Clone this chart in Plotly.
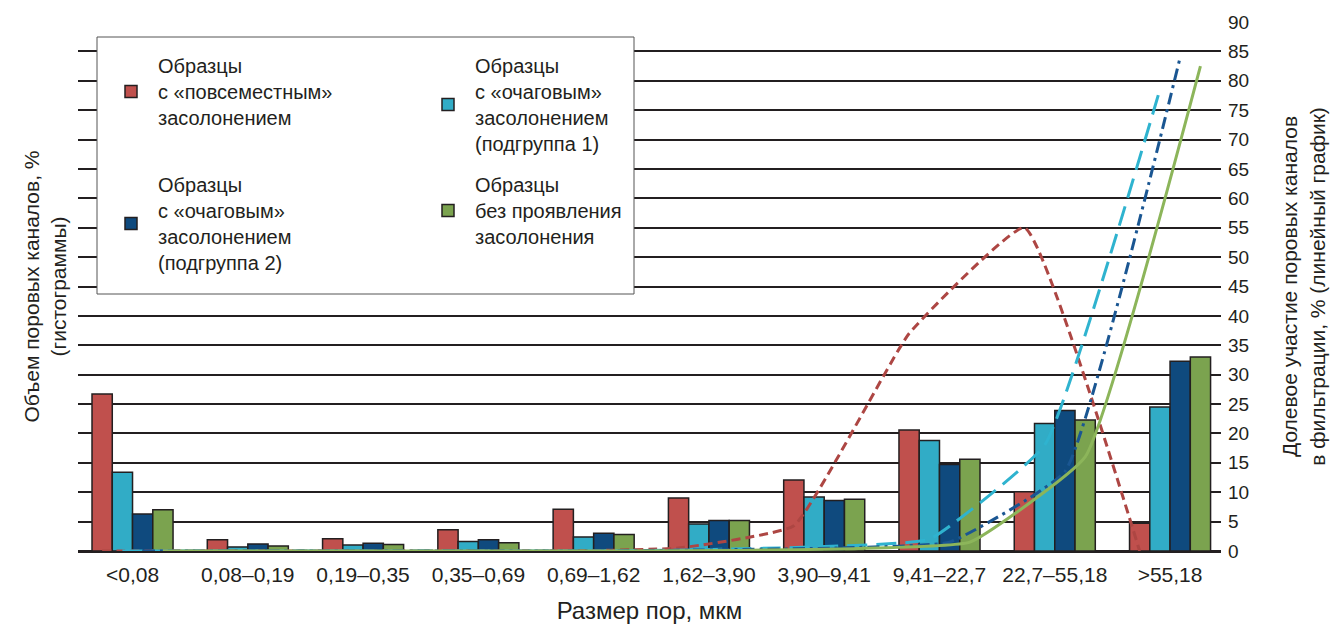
import plotly.graph_objects as go

# Pore-size classes, µm
size_classes = ["<0,08", "0,08–0,19", "0,19–0,35", "0,35–0,69", "0,69–1,62",
                "1,62–3,90", "3,90–9,41", "9,41–22,7", "22,7–55,18", ">55,18"]

# Pore-channel volume, % (histograms)
vol_widespread = [26.7, 1.9, 2.1, 3.6, 7.1, 9.0, 12.1, 20.6, 10.1, 4.7]
vol_focal_1 = [13.4, 0.7, 1.0, 1.6, 2.4, 4.6, 9.2, 18.8, 21.7, 24.5]
vol_focal_2 = [6.3, 1.2, 1.3, 1.9, 3.0, 5.2, 8.6, 14.7, 23.9, 32.3]
vol_none = [7.0, 0.85, 1.1, 1.4, 2.8, 5.2, 8.8, 15.6, 22.3, 33.0]

# Share of pore channels in filtration, % (line graph)
flt_widespread = [0, 0, 0, 0, 0, 0.5, 4.3, 37, 55, 0]
flt_focal_1 = [0, 0, 0, 0, 0, 0.2, 0.7, 2.0, 18, 78.5]
flt_focal_2 = [0, 0, 0, 0, 0, 0.2, 0.5, 1.5, 13.5, 84]
flt_none = [0, 0, 0, 0, 0, 0.1, 0.4, 1.5, 16, 82.5]

y_ticks = list(range(0, 95, 5))

names = [
    "Образцы<br>с «повсеместным»<br>засолонением",
    "Образцы<br>с «очаговым»<br>засолонением<br>(подгруппа 1)",
    "Образцы<br>с «очаговым»<br>засолонением<br>(подгруппа 2)",
    "Образцы<br>без проявления<br>засолонения",
]
bar_colors = ["#c0504d", "#31acc6", "#0f4a7e", "#7ba34f"]
line_colors = ["#ad4643", "#2fb3cf", "#1a5692", "#8cb55a"]
line_dashes = ["9px,5px", "20px,9px", "12px,5px,3px,5px", "solid"]
legend_ids = ["legend", "legend2", "legend3", "legend4"]

vols = [vol_widespread, vol_focal_1, vol_focal_2, vol_none]
flts = [flt_widespread, flt_focal_1, flt_focal_2, flt_none]

INK = "#231f20"
FONT = "Liberation Sans, Arial, sans-serif"

W, H = 1336, 629
ML, MR, MT, MB = 78, 115, 22, 78
PW, PH = W - ML - MR, H - MT - MB


def px_x(px):
    return (px - ML) / PW


def px_y(py):
    return (H - MB - py) / PH


fig = go.Figure()

for i in range(4):
    fig.add_trace(go.Bar(
        x=size_classes, y=vols[i], name=names[i],
        marker=dict(color=bar_colors[i], line=dict(color=INK, width=1.5)),
        offsetgroup=str(i), legend=legend_ids[i],
    ))

for i in range(4):
    fig.add_trace(go.Scatter(
        x=size_classes, y=flts[i], mode="lines", yaxis="y2",
        line=dict(color=line_colors[i], width=3, dash=line_dashes[i],
                  shape="spline", smoothing=0.35),
        offsetgroup=str(i), showlegend=False, hoverinfo="skip",
    ))

# Legend frame
fig.add_shape(type="rect", xref="paper", yref="paper",
              x0=px_x(97), x1=px_x(634), y0=px_y(294), y1=px_y(37),
              line=dict(color="#555555", width=1), fillcolor="white",
              layer="above")

legend_pos = [(104, 46), (421, 46), (104, 165), (421, 165)]
leg_layout = {}
for lid, (px, py) in zip(legend_ids, legend_pos):
    leg_layout[lid] = dict(
        x=px_x(px), y=px_y(py), xanchor="left", yanchor="top",
        bgcolor="rgba(0,0,0,0)", borderwidth=0, itemwidth=44,
        font=dict(family=FONT, size=20, color=INK),
        itemclick=False, itemdoubleclick=False,
    )

fig.update_layout(
    width=W, height=H,
    margin=dict(l=ML, r=MR, t=MT, b=MB, autoexpand=False),
    plot_bgcolor="white", paper_bgcolor="white",
    barmode="group", bargap=0.297, bargroupgap=0,
    scattermode="group", scattergap=0.297,
    font=dict(family=FONT, size=18, color=INK),
    xaxis=dict(
        type="category", range=[-0.473, 9.442],
        showgrid=False, ticks="", showline=False, zeroline=False,
        tickangle=0,
        tickfont=dict(size=21, color=INK), ticklabelstandoff=9,
        title=dict(text="Размер пор, мкм", font=dict(size=24, color=INK),
                   standoff=17),
    ),
    yaxis=dict(
        range=[0, 90], tickvals=y_ticks, showticklabels=False, ticks="",
        showgrid=True, gridcolor=INK, gridwidth=2,
        zeroline=True, zerolinecolor=INK, zerolinewidth=3, showline=False,
        title=dict(text="Объем поровых каналов, %<br>(гистограммы)",
                   font=dict(size=21, color=INK), standoff=4),
    ),
    yaxis2=dict(
        overlaying="y", side="right", range=[0, 90], tickvals=y_ticks,
        showgrid=False, zeroline=False, showline=False, ticks="",
        tickfont=dict(size=19, color=INK), ticklabelstandoff=6,
        title=dict(text="Долевое участие поровых каналов<br>"
                        "в фильтрации, % (линейный график)",
                   font=dict(size=21, color=INK), standoff=34),
    ),
    **leg_layout,
)

fig.write_html("out.html")
